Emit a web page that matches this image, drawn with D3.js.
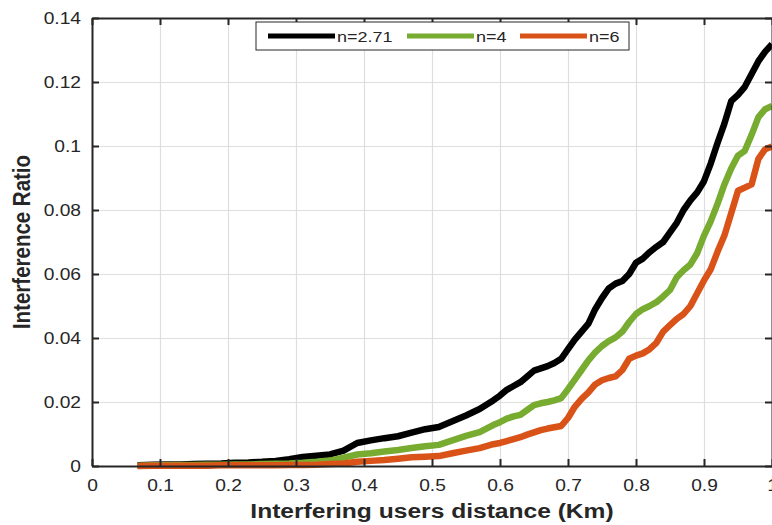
<!DOCTYPE html>
<html>
<head>
<meta charset="utf-8">
<script src="https://cdn.jsdelivr.net/npm/d3@7"></script>
<style>
  html, body { margin: 0; padding: 0; background: #fff; }
  svg { display: block; }
  text { font-family: "Liberation Sans", Arial, Helvetica, sans-serif; fill: #262626; }
</style>
</head>
<body>
<svg id="chart" width="772" height="525"></svg>
<script>
// ---- data ----
const distance = [0.067,0.09,0.11,0.13,0.15,0.17,0.19,0.21,0.23,0.25,0.27,0.29,0.31,0.33,0.35,0.37,0.39,0.41,0.43,0.45,0.47,0.49,0.51,0.53,0.55,0.57,0.59,
  0.60,0.61,0.62,0.63,0.64,0.65,0.66,0.67,0.68,0.69,0.70,0.71,0.72,0.73,0.74,0.75,0.76,0.77,0.78,0.79,0.80,
  0.81,0.82,0.83,0.84,0.85,0.86,0.87,0.88,0.89,0.90,0.91,0.92,0.93,0.94,0.95,0.96,0.97,0.98,0.99,1.00];
const ratioN271 = [0.0002,0.0004,0.0005,0.0005,0.0006,0.0007,0.0008,0.0010,0.0011,0.0013,0.0016,0.0021,0.0028,0.0032,0.0036,0.0048,0.0072,0.0080,0.0087,0.0093,0.0104,0.0115,0.0122,0.0140,0.0158,0.0178,0.0205,
  0.0220,0.0238,0.0250,0.0262,0.0280,0.0298,0.0305,0.0312,0.0322,0.0335,0.0365,0.0395,0.0420,0.0445,0.0490,0.0525,0.0555,0.0570,0.0578,0.0600,0.0635,
  0.0648,0.0668,0.0685,0.0700,0.0730,0.0760,0.0800,0.0830,0.0855,0.0890,0.0946,0.1010,0.1070,0.1140,0.1160,0.1185,0.1225,0.1265,0.1295,0.1318];
const ratioN4 = [0.0001,0.0002,0.0003,0.0003,0.0003,0.0004,0.0004,0.0005,0.0005,0.0006,0.0007,0.0008,0.0010,0.0013,0.0017,0.0026,0.0036,0.0040,0.0045,0.0050,0.0056,0.0062,0.0066,0.0080,0.0094,0.0106,0.0128,
  0.0137,0.0148,0.0155,0.0160,0.0175,0.0190,0.0196,0.0200,0.0205,0.0212,0.0240,0.0270,0.0300,0.0330,0.0355,0.0375,0.0390,0.0402,0.0420,0.0450,0.0475,
  0.0490,0.0500,0.0512,0.0530,0.0550,0.0590,0.0612,0.0630,0.0665,0.0720,0.0765,0.0820,0.0880,0.0930,0.0970,0.0985,0.1035,0.1090,0.1115,0.1125];
const ratioN6 = [0.0000,0.0001,0.0001,0.0001,0.0001,0.0001,0.0002,0.0002,0.0002,0.0002,0.0002,0.0003,0.0003,0.0004,0.0006,0.0008,0.0013,0.0016,0.0019,0.0023,0.0027,0.0029,0.0031,0.0040,0.0048,0.0056,0.0068,
  0.0072,0.0078,0.0084,0.0090,0.0098,0.0105,0.0112,0.0117,0.0121,0.0125,0.0150,0.0185,0.0210,0.0230,0.0255,0.0268,0.0275,0.0280,0.0300,0.0335,0.0345,
  0.0352,0.0365,0.0385,0.0420,0.0440,0.0460,0.0475,0.0500,0.0540,0.0580,0.0615,0.0670,0.0720,0.0790,0.0860,0.0870,0.0880,0.0960,0.0990,0.0998];
const seriesNames  = ["n=2.71", "n=4", "n=6"];
const seriesColors = ["#000000", "#77AC30", "#D95319"];
const xTicks = [0,0.1,0.2,0.3,0.4,0.5,0.6,0.7,0.8,0.9,1];
const yTicks = [0,0.02,0.04,0.06,0.08,0.1,0.12,0.14];
const xTitle = "Interfering users distance (Km)";
const yTitle = "Interference Ratio";

// ---- layout ----
const SX = 1.2; // horizontal text stretch seen in the reference
const pL = 92, pR = 772, pT = 18, pB = 466;
const svg = d3.select("#chart");
const x = d3.scaleLinear().domain([0, 1]).range([pL, pR]);
const y = d3.scaleLinear().domain([0, 0.14]).range([pB, pT]);

// grid
const gx = svg.append("g").attr("transform", `translate(0,${pB})`)
  .call(d3.axisBottom(x).tickValues(xTicks).tickSize(-(pB - pT)).tickFormat(""));
const gy = svg.append("g").attr("transform", `translate(${pL},0)`)
  .call(d3.axisLeft(y).tickValues(yTicks).tickSize(-(pR - pL)).tickFormat(""));
[gx, gy].forEach(g => {
  g.select(".domain").remove();
  g.selectAll(".tick line").attr("stroke", "#dedede").attr("stroke-width", 1.2);
});

// lines
const series = [ratioN271, ratioN4, ratioN6];
const line = d3.line().x(d => x(d[0])).y(d => y(d[1]));
series.forEach((vals, i) => {
  svg.append("path")
    .datum(distance.map((d, j) => [d, vals[j]]))
    .attr("fill", "none")
    .attr("stroke", seriesColors[i])
    .attr("stroke-width", 6.5)
    .attr("stroke-linejoin", "round")
    .attr("stroke-linecap", "butt")
    .attr("d", line);
});

// axes
function styleAxis(g) {
  g.select(".domain").attr("stroke", "#262626").attr("stroke-width", 2);
  g.selectAll(".tick line").attr("stroke", "#262626").attr("stroke-width", 2);
}
const axB = svg.append("g").attr("transform", `translate(0,${pB})`)
  .call(d3.axisBottom(x).tickValues(xTicks).tickSizeInner(-7).tickSizeOuter(0).tickPadding(14)
    .tickFormat(d => d3.format("~g")(d)));
styleAxis(axB);
axB.selectAll("text").attr("font-size", 16).attr("fill", "#262626")
  .attr("font-family", "Liberation Sans, Arial, sans-serif")
  .attr("transform", `scale(${SX},1)`);

const axL = svg.append("g").attr("transform", `translate(${pL},0)`)
  .call(d3.axisLeft(y).tickValues(yTicks).tickSizeInner(-7).tickSizeOuter(0).tickPadding(11)
    .tickFormat(d => d3.format("~g")(d)));
styleAxis(axL);
axL.selectAll("text").attr("font-size", 16).attr("fill", "#262626")
  .attr("font-family", "Liberation Sans, Arial, sans-serif")
  .attr("x", -11 / SX)
  .attr("transform", `scale(${SX},1)`);

const axT = svg.append("g").attr("transform", `translate(0,${pT})`)
  .call(d3.axisTop(x).tickValues(xTicks).tickSizeInner(-7).tickSizeOuter(0).tickFormat(""));
styleAxis(axT);
const axR = svg.append("g").attr("transform", `translate(${pR},0)`)
  .call(d3.axisRight(y).tickValues(yTicks).tickSizeInner(-7).tickSizeOuter(0).tickFormat(""));
styleAxis(axR);

// titles
svg.append("text")
  .attr("transform", `translate(${(pL + pR) / 2},518) scale(${SX},1)`)
  .attr("text-anchor", "middle").attr("font-weight", "bold").attr("font-size", 20.5)
  .text(xTitle);
svg.append("text")
  .attr("transform", `translate(30,${(pT + pB) / 2}) scale(${SX},1) rotate(-90)`)
  .attr("text-anchor", "middle").attr("font-weight", "bold").attr("font-size", 20.5)
  .text(yTitle);

// legend
const lg = svg.append("g");
lg.append("rect").attr("x", 256).attr("y", 22).attr("width", 373).attr("height", 28)
  .attr("fill", "#fff").attr("stroke", "#262626").attr("stroke-width", 1);
const legendLineX = [268, 407, 520];
seriesNames.forEach((name, i) => {
  lg.append("line").attr("x1", legendLineX[i]).attr("x2", legendLineX[i] + 67)
    .attr("y1", 36).attr("y2", 36)
    .attr("stroke", seriesColors[i]).attr("stroke-width", 5);
  lg.append("text")
    .attr("transform", `translate(${legendLineX[i] + 69},42) scale(${SX},1)`)
    .attr("font-size", 15).text(name);
});
</script>
</body>
</html>
